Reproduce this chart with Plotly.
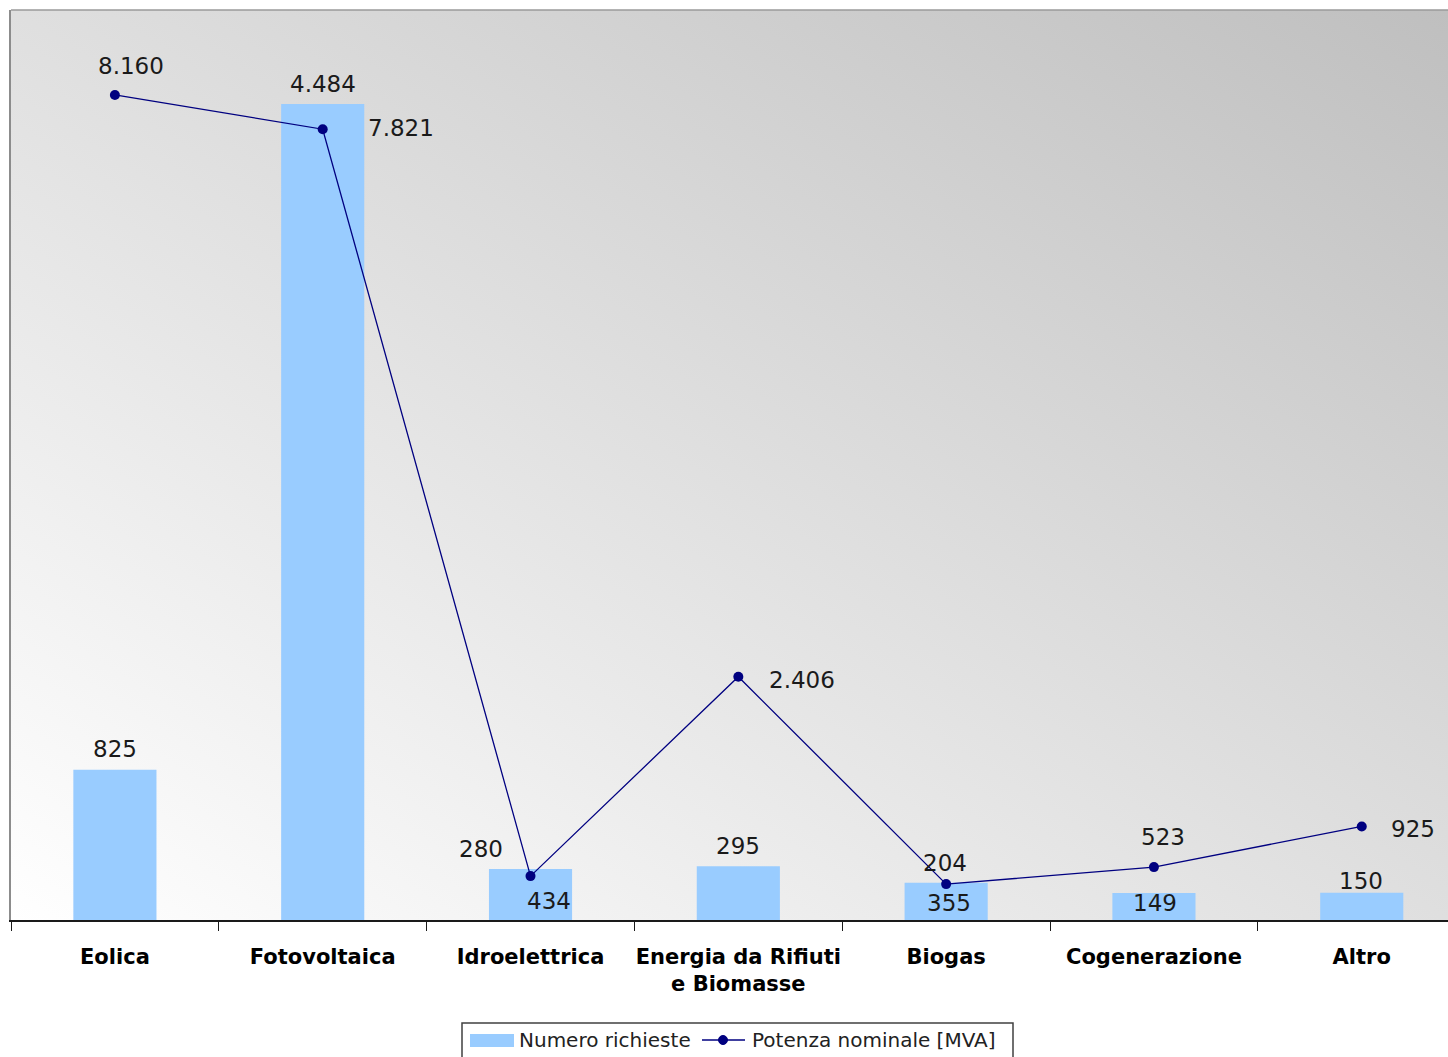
import base64
import plotly.graph_objects as go

categories = ["Eolica", "Fotovoltaica", "Idroelettrica", "Energia da Rifiuti<br>e Biomasse",
              "Biogas", "Cogenerazione", "Altro"]
numero_richieste = [825, 4484, 280, 295, 204, 149, 150]
potenza_mva = [8160, 7821, 434, 2406, 355, 523, 925]
series_names = ["Numero richieste", "Potenza nominale [MVA]"]

# label offsets (px) – style only
bar_lbl_shift = [(0, 21), (0, 20), (-50, 20), (0, 20), (-1, 20), (1, -10), (-1, 12)]
line_lbl_shift = [(16, 29), (78, 1), (18, -25), (64, -3), (3, -19), (9, 30), (51, -3)]

BAR_COLOR = "#99ccff"
LINE_COLOR = "#000080"

W, H = 1448, 1057
ML, MR, MT, MB = 11, 0, 10, 137
PW, PH = W - ML - MR, H - MT - MB


def px_x(x):
    return (x - ML) / PW


def px_y(y):
    return (H - MB - y) / PH


def it_fmt(v):
    return f"{v:,}".replace(",", ".")


svg = ('<svg xmlns="http://www.w3.org/2000/svg" width="100" height="100" preserveAspectRatio="none">'
       '<defs><linearGradient id="g" x1="0" y1="1" x2="1" y2="0">'
       '<stop offset="0" stop-color="#ffffff"/><stop offset="1" stop-color="#bfbfbf"/>'
       '</linearGradient></defs><rect width="100" height="100" fill="url(#g)"/></svg>')
svg_uri = "data:image/svg+xml;base64," + base64.b64encode(svg.encode()).decode()

fig = go.Figure()
fig.add_trace(go.Bar(x=categories, y=numero_richieste, name=series_names[0],
                     marker=dict(color=BAR_COLOR, line=dict(width=0)), width=0.4,
                     yaxis="y", showlegend=False))
fig.add_trace(go.Scatter(x=categories, y=potenza_mva, name=series_names[1],
                         mode="lines+markers", yaxis="y2", showlegend=False,
                         line=dict(color=LINE_COLOR, width=1.3),
                         marker=dict(color=LINE_COLOR, size=10, symbol="circle")))

ann = []
lab_font = dict(family="DejaVu Sans", size=23, color="#1a1a1a")
for c, v, (dx, dy) in zip(categories, numero_richieste, bar_lbl_shift):
    ann.append(dict(x=c, y=v, xref="x", yref="y", text=it_fmt(v), showarrow=False,
                    xshift=dx, yshift=dy, font=lab_font))
for c, v, (dx, dy) in zip(categories, potenza_mva, line_lbl_shift):
    ann.append(dict(x=c, y=v, xref="x", yref="y2", text=it_fmt(v), showarrow=False,
                    xshift=dx, yshift=dy, font=lab_font))

# custom legend (Excel style)
leg_font = dict(family="DejaVu Sans", size=20, color="#222222")
ann.append(dict(xref="paper", yref="paper", x=px_x(517), y=px_y(1040), xanchor="left",
                yanchor="middle", text=series_names[0], showarrow=False, font=leg_font))
ann.append(dict(xref="paper", yref="paper", x=px_x(750), y=px_y(1040), xanchor="left",
                yanchor="middle", text=series_names[1], showarrow=False, font=leg_font))

shapes = [
    dict(type="line", xref="paper", yref="paper", x0=0, x1=1, y0=1, y1=1,
         line=dict(color="#9a9a9a", width=1.5)),
    dict(type="rect", xref="paper", yref="paper", x0=px_x(462), x1=px_x(1013),
         y0=px_y(1023), y1=px_y(1062), fillcolor="white",
         line=dict(color="#404040", width=1.5), layer="above"),
    dict(type="rect", xref="paper", yref="paper", x0=px_x(470), x1=px_x(514),
         y0=px_y(1034), y1=px_y(1047), fillcolor=BAR_COLOR, line=dict(width=0)),
    dict(type="line", xref="paper", yref="paper", x0=px_x(702), x1=px_x(745),
         y0=px_y(1040), y1=px_y(1040), line=dict(color=LINE_COLOR, width=1.3)),
    dict(type="circle", xref="paper", yref="paper", x0=px_x(718.5), x1=px_x(727.5),
         y0=px_y(1035.5), y1=px_y(1044.5), fillcolor=LINE_COLOR,
         line=dict(color=LINE_COLOR, width=1)),
]

fig.update_layout(
    width=W, height=H,
    margin=dict(l=ML, r=MR, t=MT, b=MB, autoexpand=False),
    paper_bgcolor="white", plot_bgcolor="rgba(0,0,0,0)",
    font=dict(family="DejaVu Sans", color="#1a1a1a"),
    showlegend=False,
    bargap=0.6,
    xaxis=dict(range=[-0.5, 6.415], showgrid=False, showline=True, linecolor="#1a1a1a",
               linewidth=1.5, ticks="outside", tickson="boundaries", ticklen=9,
               tickcolor="#1a1a1a", tickwidth=1.2, ticklabelstandoff=17, tickangle=0,
               automargin=False,
               tickfont=dict(family="DejaVu Sans", size=21, color="#000000", weight="bold"),
               fixedrange=True),
    yaxis=dict(range=[0, 5000], showgrid=False, zeroline=False, showticklabels=False,
               showline=True, linecolor="#8c8c8c", linewidth=1.5, ticks="", automargin=False),
    yaxis2=dict(range=[0, 9000], overlaying="y", side="right", showgrid=False,
                zeroline=False, showticklabels=False, showline=False, automargin=False),
    images=[dict(source=svg_uri, xref="paper", yref="paper", x=0, y=1, sizex=1, sizey=1,
                 sizing="stretch", xanchor="left", yanchor="top", layer="below")],
    shapes=shapes,
    annotations=ann,
)

fig.write_html("out.html")
